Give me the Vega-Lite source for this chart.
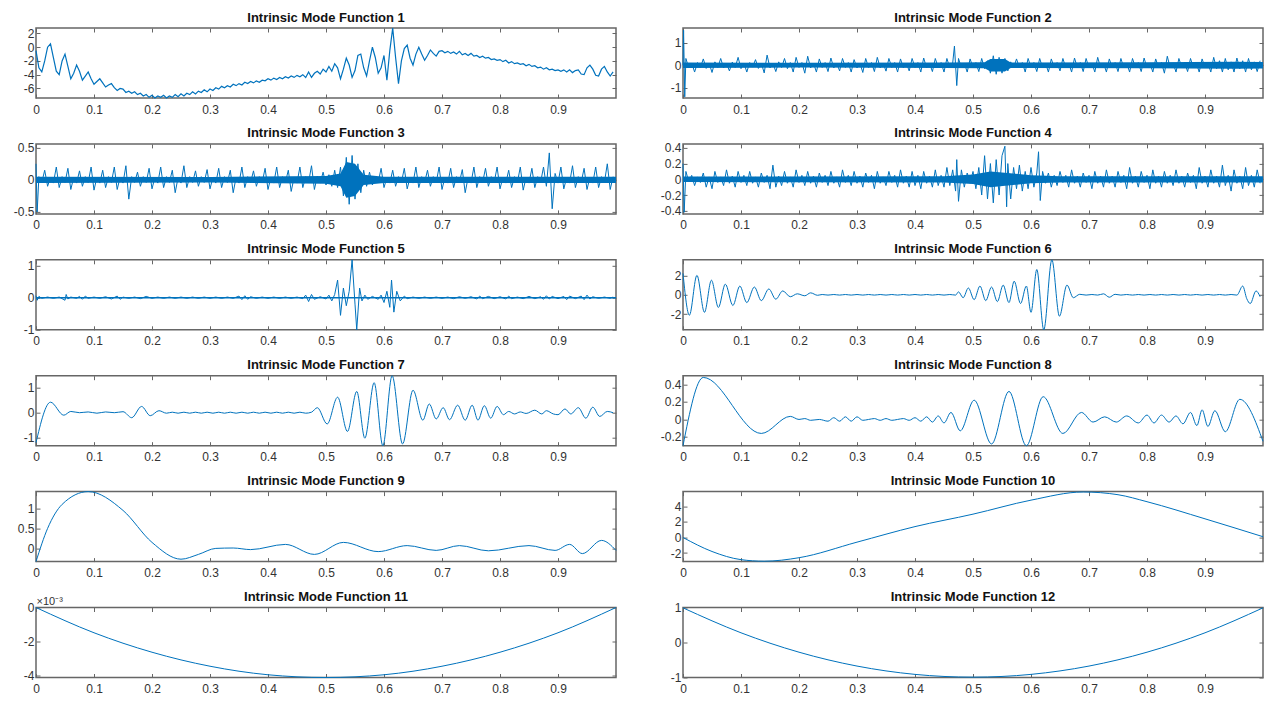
{
"$schema":"https://vega.github.io/schema/vega-lite/v6.json",
"padding":{"left":5,"top":10,"right":0,"bottom":0},
"columns":2,
"spacing":{"row":9.9,"column":33},
"config":{
 "view":{"stroke":"#666666","strokeWidth":1.5},
 "font":"Liberation Sans",
 "title":{"fontSize":13,"fontWeight":"bold","color":"#111111","offset":-10.5,"anchor":"middle","frame":"group","font":"Liberation Sans"},
 "axis":{"domain":false,"grid":false,"tickSize":-4,"tickColor":"#666666","tickWidth":1,"labelFontSize":12,"labelColor":"#333333","labelFont":"Liberation Sans","labelPadding":6,"labelFlush":false,"format":"~g"},
 "axisX":{"minExtent":16,"maxExtent":16,"labelPadding":10},
 "axisY":{"minExtent":30,"maxExtent":30},
 "line":{"color":"#0072BD","strokeWidth":1,"clip":true},
 "area":{"color":"#0072BD","clip":true},
 "locale":{"number":{"decimal":".","thousands":",","grouping":[3],"currency":["$",""],"minus":"-"}}
},
"datasets":{
"d1":[{"x":0,"y":-0.5},{"x":0.005,"y":-3},{"x":0.01,"y":-3.6},{"x":0.015,"y":-2},{"x":0.02,"y":0},{"x":0.025,"y":0.5},{"x":0.03,"y":-1.5},{"x":0.035,"y":-3.5},{"x":0.04,"y":-4},{"x":0.045,"y":-2},{"x":0.05,"y":-1},{"x":0.055,"y":-2.8},{"x":0.06,"y":-4.6},{"x":0.065,"y":-3.8},{"x":0.07,"y":-2.6},{"x":0.075,"y":-3.5},{"x":0.08,"y":-4.8},{"x":0.085,"y":-4.2},{"x":0.09,"y":-3.6},{"x":0.095,"y":-4.6},{"x":0.1,"y":-5.4},{"x":0.105,"y":-5},{"x":0.11,"y":-4.6},{"x":0.115,"y":-5.2},{"x":0.12,"y":-5.8},{"x":0.125,"y":-5.5},{"x":0.13,"y":-5.3},{"x":0.135,"y":-5.9},{"x":0.14,"y":-6.3},{"x":0.145,"y":-6},{"x":0.15,"y":-6.1},{"x":0.155,"y":-6.6},{"x":0.16,"y":-6.4},{"x":0.165,"y":-6.7},{"x":0.17,"y":-6.5},{"x":0.175,"y":-6.9},{"x":0.18,"y":-6.7},{"x":0.185,"y":-7.1},{"x":0.19,"y":-6.9},{"x":0.195,"y":-7.3},{"x":0.2,"y":-7},{"x":0.205,"y":-7.4},{"x":0.21,"y":-7.1},{"x":0.215,"y":-7.3},{"x":0.22,"y":-7},{"x":0.225,"y":-7.4},{"x":0.23,"y":-7.1},{"x":0.235,"y":-7.3},{"x":0.24,"y":-6.9},{"x":0.245,"y":-7.2},{"x":0.25,"y":-6.8},{"x":0.255,"y":-7.1},{"x":0.26,"y":-6.7},{"x":0.265,"y":-6.9},{"x":0.27,"y":-6.5},{"x":0.275,"y":-6.8},{"x":0.28,"y":-6.4},{"x":0.285,"y":-6.6},{"x":0.29,"y":-6.2},{"x":0.295,"y":-6.5},{"x":0.3,"y":-6.1},{"x":0.305,"y":-6.3},{"x":0.31,"y":-5.9},{"x":0.315,"y":-6.1},{"x":0.32,"y":-5.7},{"x":0.325,"y":-5.9},{"x":0.33,"y":-5.6},{"x":0.335,"y":-5.8},{"x":0.34,"y":-5.4},{"x":0.345,"y":-5.6},{"x":0.35,"y":-5.3},{"x":0.355,"y":-5.5},{"x":0.36,"y":-5.1},{"x":0.365,"y":-5.3},{"x":0.37,"y":-5},{"x":0.375,"y":-5.2},{"x":0.38,"y":-4.9},{"x":0.385,"y":-5.1},{"x":0.39,"y":-4.8},{"x":0.395,"y":-4.9},{"x":0.4,"y":-4.6},{"x":0.405,"y":-4.8},{"x":0.41,"y":-4.5},{"x":0.415,"y":-4.7},{"x":0.42,"y":-4.4},{"x":0.425,"y":-4.6},{"x":0.43,"y":-4.3},{"x":0.435,"y":-4.5},{"x":0.44,"y":-4.2},{"x":0.445,"y":-4.4},{"x":0.45,"y":-4.1},{"x":0.455,"y":-4.3},{"x":0.46,"y":-4},{"x":0.465,"y":-4.4},{"x":0.47,"y":-3.6},{"x":0.475,"y":-4.4},{"x":0.48,"y":-3.8},{"x":0.485,"y":-3.5},{"x":0.49,"y":-3.9},{"x":0.495,"y":-3.2},{"x":0.5,"y":-3.6},{"x":0.505,"y":-2.8},{"x":0.51,"y":-3.5},{"x":0.515,"y":-2.4},{"x":0.52,"y":-3},{"x":0.525,"y":-4.6},{"x":0.53,"y":-3.2},{"x":0.535,"y":-1.6},{"x":0.54,"y":-2.6},{"x":0.545,"y":-4.4},{"x":0.55,"y":-3.4},{"x":0.555,"y":-1.2},{"x":0.56,"y":-1},{"x":0.565,"y":-3},{"x":0.57,"y":-4.2},{"x":0.575,"y":-2},{"x":0.58,"y":0},{"x":0.585,"y":-1.5},{"x":0.59,"y":-3.8},{"x":0.595,"y":-3},{"x":0.6,"y":-1.2},{"x":0.605,"y":-4.8},{"x":0.61,"y":-0.5},{"x":0.615,"y":2.8},{"x":0.62,"y":-1.5},{"x":0.625,"y":-5.3},{"x":0.63,"y":-2},{"x":0.635,"y":-0.2},{"x":0.64,"y":0.3},{"x":0.645,"y":-1.6},{"x":0.65,"y":-2.6},{"x":0.655,"y":-1},{"x":0.66,"y":0},{"x":0.665,"y":-1},{"x":0.67,"y":-1.9},{"x":0.675,"y":-1.2},{"x":0.68,"y":-0.4},{"x":0.685,"y":-0.9},{"x":0.69,"y":-1.3},{"x":0.695,"y":-0.6},{"x":0.7,"y":-0.5},{"x":0.705,"y":-0.8},{"x":0.71,"y":-0.6},{"x":0.715,"y":-0.9},{"x":0.72,"y":-0.7},{"x":0.725,"y":-1},{"x":0.73,"y":-0.6},{"x":0.735,"y":-1.1},{"x":0.74,"y":-0.9},{"x":0.745,"y":-1.2},{"x":0.75,"y":-0.9},{"x":0.755,"y":-1.3},{"x":0.76,"y":-1.2},{"x":0.765,"y":-1.5},{"x":0.77,"y":-1.3},{"x":0.775,"y":-1.6},{"x":0.78,"y":-1.5},{"x":0.785,"y":-1.8},{"x":0.79,"y":-1.7},{"x":0.795,"y":-1.9},{"x":0.8,"y":-1.8},{"x":0.805,"y":-2.1},{"x":0.81,"y":-1.9},{"x":0.815,"y":-2.3},{"x":0.82,"y":-2.1},{"x":0.825,"y":-2.4},{"x":0.83,"y":-2.3},{"x":0.835,"y":-2.5},{"x":0.84,"y":-2.4},{"x":0.845,"y":-2.7},{"x":0.85,"y":-2.5},{"x":0.855,"y":-2.8},{"x":0.86,"y":-2.7},{"x":0.865,"y":-3},{"x":0.87,"y":-2.9},{"x":0.875,"y":-3.2},{"x":0.88,"y":-3},{"x":0.885,"y":-3.3},{"x":0.89,"y":-3.2},{"x":0.895,"y":-3.4},{"x":0.9,"y":-3.3},{"x":0.905,"y":-3.5},{"x":0.91,"y":-3.3},{"x":0.915,"y":-3.6},{"x":0.92,"y":-3.3},{"x":0.925,"y":-3.7},{"x":0.93,"y":-3.4},{"x":0.935,"y":-3.3},{"x":0.94,"y":-3.9},{"x":0.945,"y":-4},{"x":0.95,"y":-3},{"x":0.955,"y":-2.6},{"x":0.96,"y":-3.2},{"x":0.965,"y":-4.1},{"x":0.97,"y":-4.2},{"x":0.975,"y":-3.2},{"x":0.98,"y":-2.8},{"x":0.985,"y":-3.6},{"x":0.99,"y":-4.2},{"x":0.995,"y":-3.6}],
"d2":[{"x":0,"y":0},{"x":0.001,"y":1.55},{"x":0.003,"y":-1.4},{"x":0.005,"y":0.3},{"x":0.01,"y":-0.12},{"x":0.015,"y":0.1},{"x":0.02,"y":-0.3},{"x":0.025,"y":0.12},{"x":0.03,"y":-0.1},{"x":0.035,"y":0.28},{"x":0.04,"y":-0.14},{"x":0.045,"y":0.1},{"x":0.05,"y":-0.32},{"x":0.055,"y":0.15},{"x":0.06,"y":-0.1},{"x":0.065,"y":0.3},{"x":0.07,"y":-0.12},{"x":0.075,"y":0.08},{"x":0.08,"y":-0.25},{"x":0.085,"y":0.14},{"x":0.09,"y":-0.1},{"x":0.095,"y":0.35},{"x":0.1,"y":-0.15},{"x":0.105,"y":0.1},{"x":0.11,"y":-0.3},{"x":0.115,"y":0.12},{"x":0.12,"y":-0.08},{"x":0.125,"y":0.25},{"x":0.13,"y":-0.14},{"x":0.135,"y":0.1},{"x":0.14,"y":-0.34},{"x":0.145,"y":0.45},{"x":0.15,"y":-0.12},{"x":0.155,"y":0.1},{"x":0.16,"y":-0.28},{"x":0.165,"y":0.15},{"x":0.17,"y":-0.1},{"x":0.175,"y":0.3},{"x":0.18,"y":-0.15},{"x":0.185,"y":0.12},{"x":0.19,"y":-0.3},{"x":0.195,"y":0.35},{"x":0.2,"y":-0.1},{"x":0.205,"y":0.12},{"x":0.21,"y":-0.35},{"x":0.215,"y":0.4},{"x":0.22,"y":-0.12},{"x":0.225,"y":0.1},{"x":0.23,"y":-0.3},{"x":0.235,"y":0.28},{"x":0.24,"y":-0.1},{"x":0.245,"y":0.12},{"x":0.25,"y":-0.28},{"x":0.255,"y":0.32},{"x":0.26,"y":-0.12},{"x":0.265,"y":0.1},{"x":0.27,"y":-0.25},{"x":0.275,"y":0.3},{"x":0.28,"y":-0.1},{"x":0.285,"y":0.12},{"x":0.29,"y":-0.3},{"x":0.295,"y":0.25},{"x":0.3,"y":-0.12},{"x":0.305,"y":0.1},{"x":0.31,"y":-0.32},{"x":0.315,"y":0.3},{"x":0.32,"y":-0.1},{"x":0.325,"y":0.12},{"x":0.33,"y":-0.28},{"x":0.335,"y":0.35},{"x":0.34,"y":-0.12},{"x":0.345,"y":0.1},{"x":0.35,"y":-0.26},{"x":0.355,"y":0.3},{"x":0.36,"y":-0.1},{"x":0.365,"y":0.12},{"x":0.37,"y":-0.3},{"x":0.375,"y":0.28},{"x":0.38,"y":-0.12},{"x":0.385,"y":0.1},{"x":0.39,"y":-0.25},{"x":0.395,"y":0.3},{"x":0.4,"y":-0.1},{"x":0.405,"y":0.12},{"x":0.41,"y":-0.3},{"x":0.415,"y":0.32},{"x":0.42,"y":-0.12},{"x":0.425,"y":0.1},{"x":0.43,"y":-0.28},{"x":0.435,"y":0.3},{"x":0.44,"y":-0.1},{"x":0.445,"y":0.12},{"x":0.45,"y":-0.3},{"x":0.455,"y":0.3},{"x":0.46,"y":-0.12},{"x":0.465,"y":0.1},{"x":0.468,"y":0.85},{"x":0.472,"y":-0.9},{"x":0.475,"y":0.3},{"x":0.48,"y":-0.12},{"x":0.485,"y":0.1},{"x":0.49,"y":-0.3},{"x":0.495,"y":0.28},{"x":0.5,"y":-0.1},{"x":0.505,"y":0.12},{"x":0.51,"y":-0.28},{"x":0.515,"y":0.3},{"x":0.52,"y":-0.15},{"x":0.525,"y":0.2},{"x":0.53,"y":-0.35},{"x":0.535,"y":0.42},{"x":0.54,"y":-0.4},{"x":0.545,"y":0.35},{"x":0.55,"y":-0.35},{"x":0.555,"y":0.3},{"x":0.56,"y":-0.25},{"x":0.565,"y":0.15},{"x":0.57,"y":-0.12},{"x":0.575,"y":0.28},{"x":0.58,"y":-0.1},{"x":0.585,"y":0.12},{"x":0.59,"y":-0.3},{"x":0.595,"y":0.3},{"x":0.6,"y":-0.1},{"x":0.605,"y":0.12},{"x":0.61,"y":-0.28},{"x":0.615,"y":0.3},{"x":0.62,"y":-0.12},{"x":0.625,"y":0.1},{"x":0.63,"y":-0.3},{"x":0.635,"y":0.28},{"x":0.64,"y":-0.1},{"x":0.645,"y":0.12},{"x":0.65,"y":-0.25},{"x":0.655,"y":0.3},{"x":0.66,"y":-0.12},{"x":0.665,"y":0.1},{"x":0.67,"y":-0.3},{"x":0.675,"y":0.32},{"x":0.68,"y":-0.1},{"x":0.685,"y":0.12},{"x":0.69,"y":-0.28},{"x":0.695,"y":0.3},{"x":0.7,"y":-0.12},{"x":0.705,"y":0.1},{"x":0.71,"y":-0.3},{"x":0.715,"y":0.35},{"x":0.72,"y":-0.12},{"x":0.725,"y":0.1},{"x":0.73,"y":-0.3},{"x":0.735,"y":0.28},{"x":0.74,"y":-0.1},{"x":0.745,"y":0.12},{"x":0.75,"y":-0.28},{"x":0.755,"y":0.3},{"x":0.76,"y":-0.12},{"x":0.765,"y":0.1},{"x":0.77,"y":-0.3},{"x":0.775,"y":0.3},{"x":0.78,"y":-0.1},{"x":0.785,"y":0.12},{"x":0.79,"y":-0.28},{"x":0.795,"y":0.32},{"x":0.8,"y":-0.12},{"x":0.805,"y":0.1},{"x":0.81,"y":-0.3},{"x":0.815,"y":0.28},{"x":0.82,"y":-0.1},{"x":0.825,"y":0.12},{"x":0.83,"y":-0.35},{"x":0.835,"y":0.4},{"x":0.84,"y":-0.12},{"x":0.845,"y":0.1},{"x":0.85,"y":-0.3},{"x":0.855,"y":0.3},{"x":0.86,"y":-0.1},{"x":0.865,"y":0.12},{"x":0.87,"y":-0.28},{"x":0.875,"y":0.3},{"x":0.88,"y":-0.12},{"x":0.885,"y":0.1},{"x":0.89,"y":-0.3},{"x":0.895,"y":0.28},{"x":0.9,"y":-0.1},{"x":0.905,"y":0.12},{"x":0.91,"y":-0.3},{"x":0.915,"y":0.35},{"x":0.92,"y":-0.15},{"x":0.925,"y":0.2},{"x":0.93,"y":-0.3},{"x":0.935,"y":0.3},{"x":0.94,"y":-0.2},{"x":0.945,"y":0.15},{"x":0.95,"y":-0.3},{"x":0.955,"y":0.32},{"x":0.96,"y":-0.15},{"x":0.965,"y":0.2},{"x":0.97,"y":-0.3},{"x":0.975,"y":0.3},{"x":0.98,"y":-0.2},{"x":0.985,"y":0.15},{"x":0.99,"y":-0.28},{"x":0.995,"y":0.2}],
"b2":[{"x":0,"lo":-0.12,"hi":0.12},{"x":0.2,"lo":-0.1,"hi":0.11},{"x":0.45,"lo":-0.12,"hi":0.12},{"x":0.52,"lo":-0.13,"hi":0.13},{"x":0.53,"lo":-0.28,"hi":0.28},{"x":0.555,"lo":-0.28,"hi":0.28},{"x":0.565,"lo":-0.12,"hi":0.12},{"x":0.8,"lo":-0.13,"hi":0.13},{"x":0.95,"lo":-0.15,"hi":0.15},{"x":1,"lo":-0.14,"hi":0.14}],
"d3":[{"x":0,"y":0.25},{"x":0.002,"y":-0.5},{"x":0.005,"y":0.05},{"x":0.01,"y":-0.04},{"x":0.015,"y":0.15},{"x":0.02,"y":-0.1},{"x":0.025,"y":0.04},{"x":0.03,"y":-0.05},{"x":0.035,"y":0.2},{"x":0.04,"y":-0.12},{"x":0.045,"y":0.05},{"x":0.05,"y":-0.04},{"x":0.055,"y":0.18},{"x":0.06,"y":-0.15},{"x":0.065,"y":0.04},{"x":0.07,"y":-0.05},{"x":0.075,"y":0.14},{"x":0.08,"y":-0.1},{"x":0.085,"y":0.05},{"x":0.09,"y":-0.04},{"x":0.095,"y":0.2},{"x":0.1,"y":-0.16},{"x":0.105,"y":0.04},{"x":0.11,"y":-0.05},{"x":0.115,"y":0.15},{"x":0.12,"y":-0.12},{"x":0.125,"y":0.05},{"x":0.13,"y":-0.04},{"x":0.135,"y":0.2},{"x":0.14,"y":-0.15},{"x":0.145,"y":0.04},{"x":0.15,"y":-0.05},{"x":0.155,"y":0.22},{"x":0.16,"y":-0.3},{"x":0.165,"y":0.05},{"x":0.17,"y":-0.04},{"x":0.175,"y":0.12},{"x":0.18,"y":-0.1},{"x":0.185,"y":0.05},{"x":0.19,"y":-0.04},{"x":0.195,"y":0.18},{"x":0.2,"y":-0.14},{"x":0.205,"y":0.04},{"x":0.21,"y":-0.05},{"x":0.215,"y":0.2},{"x":0.22,"y":-0.12},{"x":0.225,"y":0.05},{"x":0.23,"y":-0.04},{"x":0.235,"y":0.15},{"x":0.24,"y":-0.2},{"x":0.245,"y":0.04},{"x":0.25,"y":-0.05},{"x":0.255,"y":0.22},{"x":0.26,"y":-0.12},{"x":0.265,"y":0.05},{"x":0.27,"y":-0.04},{"x":0.275,"y":0.14},{"x":0.28,"y":-0.1},{"x":0.285,"y":0.05},{"x":0.29,"y":-0.04},{"x":0.295,"y":0.16},{"x":0.3,"y":-0.14},{"x":0.305,"y":0.04},{"x":0.31,"y":-0.05},{"x":0.315,"y":0.18},{"x":0.32,"y":-0.12},{"x":0.325,"y":0.05},{"x":0.33,"y":-0.04},{"x":0.335,"y":0.15},{"x":0.34,"y":-0.2},{"x":0.345,"y":0.04},{"x":0.35,"y":-0.05},{"x":0.355,"y":0.2},{"x":0.36,"y":-0.12},{"x":0.365,"y":0.05},{"x":0.37,"y":-0.04},{"x":0.375,"y":0.14},{"x":0.38,"y":-0.1},{"x":0.385,"y":0.05},{"x":0.39,"y":-0.04},{"x":0.395,"y":0.18},{"x":0.4,"y":-0.15},{"x":0.405,"y":0.04},{"x":0.41,"y":-0.05},{"x":0.415,"y":0.2},{"x":0.42,"y":-0.12},{"x":0.425,"y":0.05},{"x":0.43,"y":-0.04},{"x":0.435,"y":0.15},{"x":0.44,"y":-0.18},{"x":0.445,"y":0.04},{"x":0.45,"y":-0.05},{"x":0.455,"y":0.2},{"x":0.46,"y":-0.12},{"x":0.465,"y":0.05},{"x":0.47,"y":-0.04},{"x":0.475,"y":0.22},{"x":0.48,"y":-0.15},{"x":0.485,"y":0.06},{"x":0.49,"y":-0.05},{"x":0.495,"y":0.12},{"x":0.5,"y":-0.08},{"x":0.505,"y":0.08},{"x":0.51,"y":-0.1},{"x":0.515,"y":0.15},{"x":0.52,"y":-0.12},{"x":0.525,"y":0.2},{"x":0.53,"y":-0.25},{"x":0.535,"y":0.35},{"x":0.54,"y":-0.38},{"x":0.545,"y":0.38},{"x":0.55,"y":-0.3},{"x":0.555,"y":0.25},{"x":0.56,"y":-0.2},{"x":0.565,"y":0.15},{"x":0.57,"y":-0.1},{"x":0.575,"y":0.12},{"x":0.58,"y":-0.08},{"x":0.585,"y":0.05},{"x":0.59,"y":-0.04},{"x":0.595,"y":0.18},{"x":0.6,"y":-0.12},{"x":0.605,"y":0.04},{"x":0.61,"y":-0.05},{"x":0.615,"y":0.15},{"x":0.62,"y":-0.1},{"x":0.625,"y":0.05},{"x":0.63,"y":-0.04},{"x":0.635,"y":0.18},{"x":0.64,"y":-0.14},{"x":0.645,"y":0.04},{"x":0.65,"y":-0.05},{"x":0.655,"y":0.2},{"x":0.66,"y":-0.12},{"x":0.665,"y":0.05},{"x":0.67,"y":-0.04},{"x":0.675,"y":0.15},{"x":0.68,"y":-0.1},{"x":0.685,"y":0.05},{"x":0.69,"y":-0.04},{"x":0.695,"y":0.2},{"x":0.7,"y":-0.15},{"x":0.705,"y":0.04},{"x":0.71,"y":-0.05},{"x":0.715,"y":0.18},{"x":0.72,"y":-0.12},{"x":0.725,"y":0.05},{"x":0.73,"y":-0.04},{"x":0.735,"y":0.16},{"x":0.74,"y":-0.2},{"x":0.745,"y":0.04},{"x":0.75,"y":-0.05},{"x":0.755,"y":0.2},{"x":0.76,"y":-0.12},{"x":0.765,"y":0.05},{"x":0.77,"y":-0.04},{"x":0.775,"y":0.18},{"x":0.78,"y":-0.1},{"x":0.785,"y":0.05},{"x":0.79,"y":-0.04},{"x":0.795,"y":0.2},{"x":0.8,"y":-0.14},{"x":0.805,"y":0.04},{"x":0.81,"y":-0.05},{"x":0.815,"y":0.15},{"x":0.82,"y":-0.12},{"x":0.825,"y":0.05},{"x":0.83,"y":-0.04},{"x":0.835,"y":0.2},{"x":0.84,"y":-0.16},{"x":0.845,"y":0.04},{"x":0.85,"y":-0.05},{"x":0.855,"y":0.18},{"x":0.86,"y":-0.12},{"x":0.865,"y":0.05},{"x":0.87,"y":-0.04},{"x":0.875,"y":0.2},{"x":0.88,"y":-0.1},{"x":0.885,"y":0.42},{"x":0.89,"y":-0.45},{"x":0.895,"y":0.1},{"x":0.9,"y":-0.05},{"x":0.905,"y":0.2},{"x":0.91,"y":-0.14},{"x":0.915,"y":0.04},{"x":0.92,"y":-0.05},{"x":0.925,"y":0.22},{"x":0.93,"y":-0.12},{"x":0.935,"y":0.05},{"x":0.94,"y":-0.04},{"x":0.945,"y":0.18},{"x":0.95,"y":-0.15},{"x":0.955,"y":0.04},{"x":0.96,"y":-0.05},{"x":0.965,"y":0.2},{"x":0.97,"y":-0.12},{"x":0.975,"y":0.05},{"x":0.98,"y":-0.04},{"x":0.985,"y":0.25},{"x":0.99,"y":-0.15},{"x":0.995,"y":0.05}],
"b3":[{"x":0,"lo":-0.05,"hi":0.05},{"x":0.3,"lo":-0.04,"hi":0.045},{"x":0.5,"lo":-0.06,"hi":0.06},{"x":0.525,"lo":-0.1,"hi":0.1},{"x":0.535,"lo":-0.28,"hi":0.28},{"x":0.55,"lo":-0.25,"hi":0.25},{"x":0.565,"lo":-0.08,"hi":0.08},{"x":0.6,"lo":-0.05,"hi":0.05},{"x":1,"lo":-0.05,"hi":0.05}],
"d4":[{"x":0,"y":0.2},{"x":0.002,"y":-0.42},{"x":0.005,"y":0.1},{"x":0.01,"y":-0.03},{"x":0.015,"y":0.05},{"x":0.02,"y":-0.08},{"x":0.025,"y":0.03},{"x":0.03,"y":-0.04},{"x":0.035,"y":0.08},{"x":0.04,"y":-0.1},{"x":0.045,"y":0.03},{"x":0.05,"y":-0.12},{"x":0.055,"y":0.1},{"x":0.06,"y":-0.04},{"x":0.065,"y":0.03},{"x":0.07,"y":-0.08},{"x":0.075,"y":0.12},{"x":0.08,"y":-0.05},{"x":0.085,"y":0.04},{"x":0.09,"y":-0.1},{"x":0.095,"y":0.1},{"x":0.1,"y":-0.04},{"x":0.105,"y":0.05},{"x":0.11,"y":-0.08},{"x":0.115,"y":0.1},{"x":0.12,"y":-0.05},{"x":0.125,"y":0.03},{"x":0.13,"y":-0.1},{"x":0.135,"y":0.08},{"x":0.14,"y":-0.04},{"x":0.145,"y":0.05},{"x":0.15,"y":-0.12},{"x":0.155,"y":0.18},{"x":0.16,"y":-0.1},{"x":0.165,"y":0.04},{"x":0.17,"y":-0.08},{"x":0.175,"y":0.1},{"x":0.18,"y":-0.05},{"x":0.185,"y":0.03},{"x":0.19,"y":-0.1},{"x":0.195,"y":0.12},{"x":0.2,"y":-0.04},{"x":0.205,"y":0.05},{"x":0.21,"y":-0.08},{"x":0.215,"y":0.1},{"x":0.22,"y":-0.05},{"x":0.225,"y":0.04},{"x":0.23,"y":-0.1},{"x":0.235,"y":0.08},{"x":0.24,"y":-0.04},{"x":0.245,"y":0.05},{"x":0.25,"y":-0.08},{"x":0.255,"y":0.1},{"x":0.26,"y":-0.05},{"x":0.265,"y":0.03},{"x":0.27,"y":-0.1},{"x":0.275,"y":0.12},{"x":0.28,"y":-0.04},{"x":0.285,"y":0.05},{"x":0.29,"y":-0.08},{"x":0.295,"y":0.1},{"x":0.3,"y":-0.05},{"x":0.305,"y":0.04},{"x":0.31,"y":-0.1},{"x":0.315,"y":0.08},{"x":0.32,"y":-0.04},{"x":0.325,"y":0.05},{"x":0.33,"y":-0.12},{"x":0.335,"y":0.1},{"x":0.34,"y":-0.05},{"x":0.345,"y":0.03},{"x":0.35,"y":-0.08},{"x":0.355,"y":0.1},{"x":0.36,"y":-0.04},{"x":0.365,"y":0.05},{"x":0.37,"y":-0.1},{"x":0.375,"y":0.12},{"x":0.38,"y":-0.05},{"x":0.385,"y":0.04},{"x":0.39,"y":-0.1},{"x":0.395,"y":0.1},{"x":0.4,"y":-0.08},{"x":0.405,"y":0.05},{"x":0.41,"y":-0.12},{"x":0.415,"y":0.1},{"x":0.42,"y":-0.05},{"x":0.425,"y":0.04},{"x":0.43,"y":-0.1},{"x":0.435,"y":0.12},{"x":0.44,"y":-0.08},{"x":0.445,"y":0.05},{"x":0.45,"y":-0.1},{"x":0.455,"y":0.15},{"x":0.46,"y":-0.08},{"x":0.465,"y":0.12},{"x":0.47,"y":-0.15},{"x":0.472,"y":0.25},{"x":0.475,"y":-0.28},{"x":0.48,"y":0.12},{"x":0.485,"y":-0.1},{"x":0.49,"y":0.08},{"x":0.495,"y":-0.05},{"x":0.5,"y":0.1},{"x":0.505,"y":-0.12},{"x":0.51,"y":0.15},{"x":0.515,"y":-0.2},{"x":0.52,"y":0.3},{"x":0.525,"y":-0.25},{"x":0.53,"y":0.2},{"x":0.535,"y":-0.3},{"x":0.54,"y":0.25},{"x":0.545,"y":-0.2},{"x":0.55,"y":0.3},{"x":0.555,"y":0.42},{"x":0.558,"y":-0.35},{"x":0.56,"y":0.2},{"x":0.565,"y":-0.25},{"x":0.57,"y":0.15},{"x":0.575,"y":-0.12},{"x":0.58,"y":0.18},{"x":0.585,"y":-0.15},{"x":0.59,"y":0.1},{"x":0.595,"y":-0.12},{"x":0.6,"y":0.15},{"x":0.605,"y":-0.1},{"x":0.61,"y":0.08},{"x":0.613,"y":0.35},{"x":0.616,"y":-0.27},{"x":0.62,"y":0.1},{"x":0.625,"y":-0.05},{"x":0.63,"y":0.08},{"x":0.635,"y":-0.1},{"x":0.64,"y":0.05},{"x":0.645,"y":-0.08},{"x":0.65,"y":0.1},{"x":0.655,"y":-0.04},{"x":0.66,"y":0.05},{"x":0.665,"y":-0.1},{"x":0.67,"y":0.12},{"x":0.675,"y":-0.05},{"x":0.68,"y":0.04},{"x":0.685,"y":-0.1},{"x":0.69,"y":0.08},{"x":0.695,"y":-0.04},{"x":0.7,"y":0.05},{"x":0.705,"y":-0.12},{"x":0.71,"y":0.1},{"x":0.715,"y":-0.05},{"x":0.72,"y":0.04},{"x":0.725,"y":-0.1},{"x":0.73,"y":0.12},{"x":0.735,"y":-0.05},{"x":0.74,"y":0.04},{"x":0.745,"y":-0.1},{"x":0.75,"y":0.1},{"x":0.755,"y":-0.04},{"x":0.76,"y":0.05},{"x":0.765,"y":-0.12},{"x":0.77,"y":0.15},{"x":0.775,"y":-0.05},{"x":0.78,"y":0.04},{"x":0.785,"y":-0.1},{"x":0.79,"y":0.1},{"x":0.795,"y":-0.04},{"x":0.8,"y":0.05},{"x":0.805,"y":-0.12},{"x":0.81,"y":0.12},{"x":0.815,"y":-0.05},{"x":0.82,"y":0.04},{"x":0.825,"y":-0.1},{"x":0.83,"y":0.1},{"x":0.835,"y":-0.05},{"x":0.84,"y":0.05},{"x":0.845,"y":-0.08},{"x":0.85,"y":0.12},{"x":0.855,"y":-0.05},{"x":0.86,"y":0.04},{"x":0.865,"y":-0.1},{"x":0.87,"y":0.08},{"x":0.875,"y":-0.04},{"x":0.88,"y":0.05},{"x":0.885,"y":-0.12},{"x":0.89,"y":0.15},{"x":0.895,"y":-0.05},{"x":0.9,"y":0.04},{"x":0.905,"y":-0.1},{"x":0.91,"y":0.12},{"x":0.915,"y":-0.05},{"x":0.92,"y":0.04},{"x":0.925,"y":-0.1},{"x":0.93,"y":0.18},{"x":0.935,"y":-0.08},{"x":0.94,"y":0.05},{"x":0.945,"y":-0.15},{"x":0.95,"y":0.12},{"x":0.955,"y":-0.05},{"x":0.96,"y":0.04},{"x":0.965,"y":-0.12},{"x":0.97,"y":0.15},{"x":0.975,"y":-0.08},{"x":0.98,"y":0.05},{"x":0.985,"y":-0.1},{"x":0.99,"y":0.12},{"x":0.995,"y":-0.05}],
"b4":[{"x":0,"lo":-0.035,"hi":0.035},{"x":0.45,"lo":-0.04,"hi":0.04},{"x":0.5,"lo":-0.06,"hi":0.06},{"x":0.53,"lo":-0.1,"hi":0.1},{"x":0.56,"lo":-0.08,"hi":0.08},{"x":0.6,"lo":-0.05,"hi":0.05},{"x":0.65,"lo":-0.04,"hi":0.04},{"x":1,"lo":-0.04,"hi":0.04}],
"d5":[{"x":0,"y":0.06},{"x":0.002,"y":-0.08},{"x":0.005,"y":0.04},{"x":0.01,"y":-0.02},{"x":0.02,"y":0.02},{"x":0.03,"y":-0.02},{"x":0.04,"y":0.02},{"x":0.05,"y":-0.08},{"x":0.052,"y":0.1},{"x":0.055,"y":-0.04},{"x":0.06,"y":0.02},{"x":0.07,"y":-0.02},{"x":0.075,"y":0.04},{"x":0.08,"y":-0.05},{"x":0.085,"y":0.05},{"x":0.09,"y":-0.02},{"x":0.1,"y":0.02},{"x":0.11,"y":-0.02},{"x":0.12,"y":0.03},{"x":0.13,"y":-0.04},{"x":0.14,"y":0.05},{"x":0.145,"y":-0.05},{"x":0.15,"y":0.02},{"x":0.16,"y":-0.02},{"x":0.17,"y":0.02},{"x":0.18,"y":-0.03},{"x":0.19,"y":0.04},{"x":0.2,"y":-0.02},{"x":0.21,"y":0.02},{"x":0.22,"y":-0.02},{"x":0.23,"y":0.02},{"x":0.24,"y":-0.02},{"x":0.25,"y":0.02},{"x":0.26,"y":-0.02},{"x":0.27,"y":0.02},{"x":0.28,"y":-0.02},{"x":0.29,"y":0.02},{"x":0.3,"y":-0.02},{"x":0.31,"y":0.02},{"x":0.32,"y":-0.02},{"x":0.33,"y":0.02},{"x":0.34,"y":-0.02},{"x":0.35,"y":0.05},{"x":0.355,"y":-0.06},{"x":0.36,"y":0.06},{"x":0.365,"y":-0.05},{"x":0.37,"y":0.03},{"x":0.38,"y":-0.02},{"x":0.39,"y":0.02},{"x":0.4,"y":-0.02},{"x":0.41,"y":0.02},{"x":0.42,"y":-0.02},{"x":0.43,"y":0.02},{"x":0.44,"y":-0.02},{"x":0.45,"y":0.02},{"x":0.46,"y":-0.03},{"x":0.465,"y":0.08},{"x":0.47,"y":-0.12},{"x":0.475,"y":0.1},{"x":0.48,"y":-0.05},{"x":0.49,"y":0.03},{"x":0.5,"y":-0.04},{"x":0.505,"y":0.08},{"x":0.51,"y":-0.1},{"x":0.515,"y":0.1},{"x":0.52,"y":0.55},{"x":0.525,"y":-0.55},{"x":0.53,"y":0.3},{"x":0.535,"y":-0.25},{"x":0.54,"y":0.2},{"x":0.545,"y":1.18},{"x":0.55,"y":-0.2},{"x":0.553,"y":-1},{"x":0.558,"y":0.3},{"x":0.562,"y":-0.1},{"x":0.567,"y":0.08},{"x":0.572,"y":-0.05},{"x":0.58,"y":0.04},{"x":0.59,"y":-0.05},{"x":0.595,"y":0.08},{"x":0.6,"y":-0.15},{"x":0.605,"y":0.2},{"x":0.61,"y":-0.3},{"x":0.613,"y":0.55},{"x":0.617,"y":-0.45},{"x":0.622,"y":0.2},{"x":0.628,"y":-0.1},{"x":0.635,"y":0.05},{"x":0.64,"y":-0.03},{"x":0.65,"y":0.02},{"x":0.66,"y":-0.02},{"x":0.67,"y":0.02},{"x":0.68,"y":-0.02},{"x":0.69,"y":0.02},{"x":0.7,"y":-0.02},{"x":0.71,"y":0.02},{"x":0.72,"y":-0.03},{"x":0.73,"y":0.03},{"x":0.74,"y":-0.02},{"x":0.75,"y":0.03},{"x":0.76,"y":-0.04},{"x":0.765,"y":0.05},{"x":0.77,"y":-0.03},{"x":0.78,"y":0.04},{"x":0.79,"y":-0.03},{"x":0.8,"y":0.03},{"x":0.81,"y":-0.04},{"x":0.815,"y":0.05},{"x":0.82,"y":-0.03},{"x":0.83,"y":0.02},{"x":0.84,"y":-0.03},{"x":0.85,"y":0.04},{"x":0.86,"y":-0.03},{"x":0.87,"y":0.03},{"x":0.875,"y":-0.05},{"x":0.88,"y":0.06},{"x":0.885,"y":-0.04},{"x":0.89,"y":0.04},{"x":0.9,"y":-0.03},{"x":0.91,"y":0.04},{"x":0.915,"y":-0.06},{"x":0.92,"y":0.05},{"x":0.93,"y":-0.03},{"x":0.94,"y":0.05},{"x":0.945,"y":-0.06},{"x":0.95,"y":0.08},{"x":0.955,"y":-0.04},{"x":0.96,"y":0.03},{"x":0.97,"y":-0.02},{"x":0.98,"y":0.02},{"x":0.99,"y":-0.02},{"x":0.995,"y":0.02}],
"b5":[{"x":0,"lo":-0.025,"hi":0.025},{"x":1,"lo":-0.025,"hi":0.025}],
"d6":[{"x":0,"y":2.2},{"x":0.011,"y":-2.1},{"x":0.024,"y":2},{"x":0.037,"y":-1.8},{"x":0.049,"y":1.5},{"x":0.061,"y":-1.3},{"x":0.073,"y":1.1},{"x":0.086,"y":-1.1},{"x":0.098,"y":0.9},{"x":0.11,"y":-0.8},{"x":0.123,"y":0.8},{"x":0.135,"y":-0.6},{"x":0.148,"y":0.6},{"x":0.16,"y":-0.45},{"x":0.172,"y":0.4},{"x":0.185,"y":-0.2},{"x":0.197,"y":0.1},{"x":0.21,"y":-0.1},{"x":0.22,"y":0.2},{"x":0.232,"y":-0.05},{"x":0.24,"y":0.03},{"x":0.25,"y":-0.03},{"x":0.26,"y":0.03},{"x":0.27,"y":-0.03},{"x":0.28,"y":0.03},{"x":0.29,"y":-0.03},{"x":0.3,"y":0.03},{"x":0.31,"y":-0.03},{"x":0.32,"y":0.03},{"x":0.33,"y":-0.03},{"x":0.34,"y":0.03},{"x":0.35,"y":-0.03},{"x":0.36,"y":0.03},{"x":0.37,"y":-0.03},{"x":0.38,"y":0.03},{"x":0.39,"y":-0.03},{"x":0.4,"y":0.03},{"x":0.41,"y":-0.03},{"x":0.42,"y":0.03},{"x":0.43,"y":-0.03},{"x":0.44,"y":0.03},{"x":0.45,"y":-0.03},{"x":0.46,"y":0.03},{"x":0.47,"y":-0.03},{"x":0.475,"y":0.3},{"x":0.483,"y":-0.3},{"x":0.492,"y":0.7},{"x":0.502,"y":-0.5},{"x":0.512,"y":0.9},{"x":0.522,"y":-0.6},{"x":0.532,"y":0.8},{"x":0.542,"y":-0.7},{"x":0.552,"y":1},{"x":0.562,"y":-0.8},{"x":0.571,"y":1.4},{"x":0.582,"y":-0.9},{"x":0.592,"y":0.9},{"x":0.6,"y":-1.8},{"x":0.61,"y":2.6},{"x":0.622,"y":-3.6},{"x":0.636,"y":3.6},{"x":0.649,"y":-2.2},{"x":0.662,"y":1},{"x":0.673,"y":-0.3},{"x":0.684,"y":0.05},{"x":0.695,"y":-0.03},{"x":0.705,"y":0.03},{"x":0.715,"y":-0.03},{"x":0.725,"y":0.1},{"x":0.735,"y":-0.25},{"x":0.745,"y":0.05},{"x":0.755,"y":-0.03},{"x":0.765,"y":0.03},{"x":0.775,"y":-0.03},{"x":0.785,"y":0.03},{"x":0.795,"y":-0.03},{"x":0.805,"y":0.03},{"x":0.815,"y":-0.03},{"x":0.825,"y":0.03},{"x":0.835,"y":-0.03},{"x":0.845,"y":0.03},{"x":0.855,"y":-0.03},{"x":0.865,"y":0.03},{"x":0.875,"y":-0.03},{"x":0.885,"y":0.03},{"x":0.895,"y":-0.03},{"x":0.905,"y":0.03},{"x":0.915,"y":-0.03},{"x":0.925,"y":0.03},{"x":0.935,"y":-0.03},{"x":0.945,"y":0.03},{"x":0.955,"y":-0.03},{"x":0.965,"y":0.9},{"x":0.972,"y":-0.4},{"x":0.978,"y":-0.9},{"x":0.988,"y":0.4},{"x":0.995,"y":-0.2}],
"d7":[{"x":0,"y":-1.2},{"x":0.025,"y":0.42},{"x":0.048,"y":-0.1},{"x":0.06,"y":0.05},{"x":0.075,"y":0},{"x":0.09,"y":0.03},{"x":0.105,"y":-0.02},{"x":0.12,"y":0.03},{"x":0.135,"y":0},{"x":0.15,"y":0.04},{"x":0.165,"y":-0.2},{"x":0.182,"y":0.25},{"x":0.197,"y":-0.12},{"x":0.212,"y":0.08},{"x":0.225,"y":-0.02},{"x":0.235,"y":0.02},{"x":0.245,"y":-0.02},{"x":0.255,"y":0.02},{"x":0.265,"y":-0.02},{"x":0.275,"y":0.02},{"x":0.285,"y":-0.02},{"x":0.295,"y":0.02},{"x":0.305,"y":-0.02},{"x":0.315,"y":0.02},{"x":0.325,"y":-0.02},{"x":0.335,"y":0.02},{"x":0.345,"y":-0.02},{"x":0.355,"y":0.02},{"x":0.365,"y":-0.02},{"x":0.375,"y":0.02},{"x":0.385,"y":-0.02},{"x":0.395,"y":0.02},{"x":0.405,"y":-0.02},{"x":0.415,"y":0.02},{"x":0.425,"y":-0.02},{"x":0.435,"y":0.02},{"x":0.445,"y":-0.02},{"x":0.455,"y":0.02},{"x":0.465,"y":-0.02},{"x":0.475,"y":0.02},{"x":0.485,"y":0.2},{"x":0.502,"y":-0.45},{"x":0.52,"y":0.62},{"x":0.537,"y":-0.75},{"x":0.553,"y":0.85},{"x":0.567,"y":-1.02},{"x":0.583,"y":1.2},{"x":0.598,"y":-1.32},{"x":0.614,"y":1.48},{"x":0.632,"y":-1.25},{"x":0.65,"y":0.9},{"x":0.667,"y":-0.3},{"x":0.678,"y":0.35},{"x":0.69,"y":-0.25},{"x":0.702,"y":0.2},{"x":0.713,"y":-0.28},{"x":0.727,"y":0.3},{"x":0.74,"y":-0.3},{"x":0.752,"y":0.3},{"x":0.762,"y":-0.3},{"x":0.773,"y":0.28},{"x":0.784,"y":-0.22},{"x":0.795,"y":0.25},{"x":0.806,"y":-0.08},{"x":0.815,"y":0.05},{"x":0.825,"y":-0.05},{"x":0.835,"y":0.03},{"x":0.845,"y":-0.03},{"x":0.86,"y":0.1},{"x":0.872,"y":-0.05},{"x":0.88,"y":0.08},{"x":0.892,"y":-0.05},{"x":0.9,"y":-0.08},{"x":0.912,"y":0.15},{"x":0.922,"y":-0.05},{"x":0.935,"y":0.2},{"x":0.948,"y":-0.22},{"x":0.96,"y":0.22},{"x":0.972,"y":-0.15},{"x":0.985,"y":0.05},{"x":0.995,"y":0}],
"d8":[{"x":0,"y":-0.3},{"x":0.035,"y":0.48},{"x":0.135,"y":-0.16},{"x":0.185,"y":0.035},{"x":0.2,"y":0},{"x":0.21,"y":0.01},{"x":0.22,"y":-0.01},{"x":0.235,"y":0},{"x":0.25,"y":-0.02},{"x":0.26,"y":0.02},{"x":0.27,"y":-0.02},{"x":0.28,"y":0.03},{"x":0.29,"y":-0.02},{"x":0.3,"y":0.03},{"x":0.31,"y":-0.01},{"x":0.32,"y":0},{"x":0.33,"y":0.01},{"x":0.34,"y":-0.01},{"x":0.35,"y":0.01},{"x":0.36,"y":-0.01},{"x":0.37,"y":0},{"x":0.38,"y":0.01},{"x":0.39,"y":-0.01},{"x":0.4,"y":0.02},{"x":0.41,"y":-0.02},{"x":0.42,"y":0.03},{"x":0.43,"y":-0.03},{"x":0.44,"y":0.04},{"x":0.45,"y":-0.04},{"x":0.462,"y":0.08},{"x":0.478,"y":-0.13},{"x":0.502,"y":0.22},{"x":0.532,"y":-0.28},{"x":0.562,"y":0.32},{"x":0.592,"y":-0.3},{"x":0.621,"y":0.26},{"x":0.655,"y":-0.16},{"x":0.687,"y":0.08},{"x":0.707,"y":-0.03},{"x":0.727,"y":0.03},{"x":0.747,"y":-0.03},{"x":0.765,"y":0.04},{"x":0.785,"y":-0.04},{"x":0.8,"y":0.05},{"x":0.812,"y":-0.04},{"x":0.825,"y":0.05},{"x":0.838,"y":-0.03},{"x":0.85,"y":0.04},{"x":0.862,"y":-0.05},{"x":0.875,"y":0.08},{"x":0.886,"y":-0.07},{"x":0.895,"y":0.11},{"x":0.905,"y":-0.08},{"x":0.917,"y":0.1},{"x":0.935,"y":-0.14},{"x":0.96,"y":0.23},{"x":1,"y":-0.25}],
"d9":[{"x":0,"y":-0.33},{"x":0.02,"y":0.5},{"x":0.045,"y":1.1},{"x":0.09,"y":1.42},{"x":0.15,"y":0.95},{"x":0.2,"y":0.15},{"x":0.25,"y":-0.27},{"x":0.28,"y":-0.15},{"x":0.31,"y":0},{"x":0.34,"y":0.01},{"x":0.37,"y":-0.03},{"x":0.43,"y":0.1},{"x":0.48,"y":-0.15},{"x":0.53,"y":0.15},{"x":0.59,"y":-0.08},{"x":0.64,"y":0.07},{"x":0.69,"y":-0.05},{"x":0.73,"y":0.07},{"x":0.78,"y":-0.06},{"x":0.85,"y":0.07},{"x":0.895,"y":-0.05},{"x":0.92,"y":0.1},{"x":0.942,"y":-0.13},{"x":0.975,"y":0.2},{"x":1,"y":-0.05}],
"d10":[{"x":0,"y":0},{"x":0.05,"y":-1.8},{"x":0.1,"y":-2.85},{"x":0.14,"y":-3.05},{"x":0.2,"y":-2.6},{"x":0.3,"y":-0.6},{"x":0.4,"y":1.4},{"x":0.5,"y":3},{"x":0.6,"y":4.8},{"x":0.69,"y":5.85},{"x":0.75,"y":5.5},{"x":0.8,"y":4.6},{"x":0.9,"y":2.4},{"x":1,"y":0.1}],
"d11":[{"x":0,"y":0},{"x":0.1,"y":-0.00148},{"x":0.2,"y":-0.00262},{"x":0.3,"y":-0.00344},{"x":0.4,"y":-0.00394},{"x":0.5,"y":-0.0041},{"x":0.6,"y":-0.00394},{"x":0.7,"y":-0.00344},{"x":0.8,"y":-0.00262},{"x":0.9,"y":-0.00148},{"x":1,"y":0}],
"d12":[{"x":0,"y":1},{"x":0.1,"y":0.28},{"x":0.2,"y":-0.28},{"x":0.3,"y":-0.68},{"x":0.4,"y":-0.92},{"x":0.5,"y":-1},{"x":0.6,"y":-0.92},{"x":0.7,"y":-0.68},{"x":0.8,"y":-0.28},{"x":0.9,"y":0.28},{"x":1,"y":1}]
},
"concat":[
{"title":"Intrinsic Mode Function 1","width":580,"height":70,"data":{"name":"d1"},"layer":[
 {"mark":{"type":"line","strokeWidth":1.2},"encoding":{"x":{"field":"x","type":"quantitative","title":null,"scale":{"domain":[0,1],"nice":false},"axis":{"values":[0,0.1,0.2,0.3,0.4,0.5,0.6,0.7,0.8,0.9]}},"y":{"field":"y","type":"quantitative","title":null,"scale":{"domain":[-7.4,2.8],"nice":false,"zero":false},"axis":{"values":[-6,-4,-2,0,2]}}}},
 {"mark":{"type":"line","opacity":0},"encoding":{"x":{"field":"x","type":"quantitative","title":null,"scale":{"domain":[0,1],"nice":false},"axis":{"orient":"top","labels":false,"minExtent":0,"maxExtent":0,"values":[0,0.1,0.2,0.3,0.4,0.5,0.6,0.7,0.8,0.9]}},"y":{"field":"y","type":"quantitative","title":null,"scale":{"domain":[-7.4,2.8],"nice":false,"zero":false},"axis":{"orient":"right","labels":false,"minExtent":0,"maxExtent":0,"values":[-6,-4,-2,0,2]}}}},
 {"mark":{"type":"line","opacity":0},"encoding":{"x":{"field":"x","type":"quantitative","title":null,"scale":{"domain":[0,1],"nice":false},"axis":{"orient":"top","labels":false,"tickSize":14,"tickOpacity":0,"minExtent":0,"maxExtent":0,"values":[0]}},"y":{"field":"y","type":"quantitative","scale":{"domain":[-7.4,2.8],"nice":false,"zero":false},"axis":null}}}
],"resolve":{"axis":{"x":"independent","y":"independent"}}},
{"title":"Intrinsic Mode Function 2","width":580,"height":70,"data":{"name":"d2"},"layer":[
 {"data":{"name":"b2"},"mark":{"type":"area"},"encoding":{"x":{"field":"x","type":"quantitative","scale":{"domain":[0,1],"nice":false},"axis":null},"y":{"field":"lo","type":"quantitative","scale":{"domain":[-1.45,1.65],"nice":false,"zero":false},"axis":null},"y2":{"field":"hi"}}},
 {"mark":{"type":"line"},"encoding":{"x":{"field":"x","type":"quantitative","title":null,"scale":{"domain":[0,1],"nice":false},"axis":{"values":[0,0.1,0.2,0.3,0.4,0.5,0.6,0.7,0.8,0.9]}},"y":{"field":"y","type":"quantitative","title":null,"scale":{"domain":[-1.45,1.65],"nice":false,"zero":false},"axis":{"values":[-1,0,1]}}}},
 {"mark":{"type":"line","opacity":0},"encoding":{"x":{"field":"x","type":"quantitative","title":null,"scale":{"domain":[0,1],"nice":false},"axis":{"orient":"top","labels":false,"minExtent":0,"maxExtent":0,"values":[0,0.1,0.2,0.3,0.4,0.5,0.6,0.7,0.8,0.9]}},"y":{"field":"y","type":"quantitative","title":null,"scale":{"domain":[-1.45,1.65],"nice":false,"zero":false},"axis":{"orient":"right","labels":false,"minExtent":0,"maxExtent":0,"values":[-1,0,1]}}}},
 {"mark":{"type":"line","opacity":0},"encoding":{"x":{"field":"x","type":"quantitative","title":null,"scale":{"domain":[0,1],"nice":false},"axis":{"orient":"top","labels":false,"tickSize":14,"tickOpacity":0,"minExtent":0,"maxExtent":0,"values":[0]}},"y":{"field":"y","type":"quantitative","scale":{"domain":[-1.45,1.65],"nice":false,"zero":false},"axis":null}}}
],"resolve":{"axis":{"x":"independent","y":"independent"}}},
{"title":"Intrinsic Mode Function 3","width":580,"height":70,"data":{"name":"d3"},"layer":[
 {"data":{"name":"b3"},"mark":{"type":"area"},"encoding":{"x":{"field":"x","type":"quantitative","scale":{"domain":[0,1],"nice":false},"axis":null},"y":{"field":"lo","type":"quantitative","scale":{"domain":[-0.53,0.56],"nice":false,"zero":false},"axis":null},"y2":{"field":"hi"}}},
 {"mark":{"type":"line"},"encoding":{"x":{"field":"x","type":"quantitative","title":null,"scale":{"domain":[0,1],"nice":false},"axis":{"values":[0,0.1,0.2,0.3,0.4,0.5,0.6,0.7,0.8,0.9]}},"y":{"field":"y","type":"quantitative","title":null,"scale":{"domain":[-0.53,0.56],"nice":false,"zero":false},"axis":{"values":[-0.5,0,0.5]}}}},
 {"mark":{"type":"line","opacity":0},"encoding":{"x":{"field":"x","type":"quantitative","title":null,"scale":{"domain":[0,1],"nice":false},"axis":{"orient":"top","labels":false,"minExtent":0,"maxExtent":0,"values":[0,0.1,0.2,0.3,0.4,0.5,0.6,0.7,0.8,0.9]}},"y":{"field":"y","type":"quantitative","title":null,"scale":{"domain":[-0.53,0.56],"nice":false,"zero":false},"axis":{"orient":"right","labels":false,"minExtent":0,"maxExtent":0,"values":[-0.5,0,0.5]}}}},
 {"mark":{"type":"line","opacity":0},"encoding":{"x":{"field":"x","type":"quantitative","title":null,"scale":{"domain":[0,1],"nice":false},"axis":{"orient":"top","labels":false,"tickSize":14,"tickOpacity":0,"minExtent":0,"maxExtent":0,"values":[0]}},"y":{"field":"y","type":"quantitative","scale":{"domain":[-0.53,0.56],"nice":false,"zero":false},"axis":null}}}
],"resolve":{"axis":{"x":"independent","y":"independent"}}},
{"title":"Intrinsic Mode Function 4","width":580,"height":70,"data":{"name":"d4"},"layer":[
 {"data":{"name":"b4"},"mark":{"type":"area"},"encoding":{"x":{"field":"x","type":"quantitative","scale":{"domain":[0,1],"nice":false},"axis":null},"y":{"field":"lo","type":"quantitative","scale":{"domain":[-0.44,0.45],"nice":false,"zero":false},"axis":null},"y2":{"field":"hi"}}},
 {"mark":{"type":"line"},"encoding":{"x":{"field":"x","type":"quantitative","title":null,"scale":{"domain":[0,1],"nice":false},"axis":{"values":[0,0.1,0.2,0.3,0.4,0.5,0.6,0.7,0.8,0.9]}},"y":{"field":"y","type":"quantitative","title":null,"scale":{"domain":[-0.44,0.45],"nice":false,"zero":false},"axis":{"values":[-0.4,-0.2,0,0.2,0.4]}}}},
 {"mark":{"type":"line","opacity":0},"encoding":{"x":{"field":"x","type":"quantitative","title":null,"scale":{"domain":[0,1],"nice":false},"axis":{"orient":"top","labels":false,"minExtent":0,"maxExtent":0,"values":[0,0.1,0.2,0.3,0.4,0.5,0.6,0.7,0.8,0.9]}},"y":{"field":"y","type":"quantitative","title":null,"scale":{"domain":[-0.44,0.45],"nice":false,"zero":false},"axis":{"orient":"right","labels":false,"minExtent":0,"maxExtent":0,"values":[-0.4,-0.2,0,0.2,0.4]}}}},
 {"mark":{"type":"line","opacity":0},"encoding":{"x":{"field":"x","type":"quantitative","title":null,"scale":{"domain":[0,1],"nice":false},"axis":{"orient":"top","labels":false,"tickSize":14,"tickOpacity":0,"minExtent":0,"maxExtent":0,"values":[0]}},"y":{"field":"y","type":"quantitative","scale":{"domain":[-0.44,0.45],"nice":false,"zero":false},"axis":null}}}
],"resolve":{"axis":{"x":"independent","y":"independent"}}},
{"title":"Intrinsic Mode Function 5","width":580,"height":70,"data":{"name":"d5"},"layer":[
 {"data":{"name":"b5"},"mark":{"type":"area"},"encoding":{"x":{"field":"x","type":"quantitative","scale":{"domain":[0,1],"nice":false},"axis":null},"y":{"field":"lo","type":"quantitative","scale":{"domain":[-1,1.18],"nice":false,"zero":false},"axis":null},"y2":{"field":"hi"}}},
 {"mark":{"type":"line"},"encoding":{"x":{"field":"x","type":"quantitative","title":null,"scale":{"domain":[0,1],"nice":false},"axis":{"values":[0,0.1,0.2,0.3,0.4,0.5,0.6,0.7,0.8,0.9]}},"y":{"field":"y","type":"quantitative","title":null,"scale":{"domain":[-1,1.18],"nice":false,"zero":false},"axis":{"values":[-1,0,1]}}}},
 {"mark":{"type":"line","opacity":0},"encoding":{"x":{"field":"x","type":"quantitative","title":null,"scale":{"domain":[0,1],"nice":false},"axis":{"orient":"top","labels":false,"minExtent":0,"maxExtent":0,"values":[0,0.1,0.2,0.3,0.4,0.5,0.6,0.7,0.8,0.9]}},"y":{"field":"y","type":"quantitative","title":null,"scale":{"domain":[-1,1.18],"nice":false,"zero":false},"axis":{"orient":"right","labels":false,"minExtent":0,"maxExtent":0,"values":[-1,0,1]}}}},
 {"mark":{"type":"line","opacity":0},"encoding":{"x":{"field":"x","type":"quantitative","title":null,"scale":{"domain":[0,1],"nice":false},"axis":{"orient":"top","labels":false,"tickSize":14,"tickOpacity":0,"minExtent":0,"maxExtent":0,"values":[0]}},"y":{"field":"y","type":"quantitative","scale":{"domain":[-1,1.18],"nice":false,"zero":false},"axis":null}}}
],"resolve":{"axis":{"x":"independent","y":"independent"}}},
{"title":"Intrinsic Mode Function 6","width":580,"height":70,"data":{"name":"d6"},"layer":[
 {"mark":{"type":"line","interpolate":"monotone"},"encoding":{"x":{"field":"x","type":"quantitative","title":null,"scale":{"domain":[0,1],"nice":false},"axis":{"values":[0,0.1,0.2,0.3,0.4,0.5,0.6,0.7,0.8,0.9]}},"y":{"field":"y","type":"quantitative","title":null,"scale":{"domain":[-3.6,3.6],"nice":false,"zero":false},"axis":{"values":[-2,0,2]}}}},
 {"mark":{"type":"line","opacity":0},"encoding":{"x":{"field":"x","type":"quantitative","title":null,"scale":{"domain":[0,1],"nice":false},"axis":{"orient":"top","labels":false,"minExtent":0,"maxExtent":0,"values":[0,0.1,0.2,0.3,0.4,0.5,0.6,0.7,0.8,0.9]}},"y":{"field":"y","type":"quantitative","title":null,"scale":{"domain":[-3.6,3.6],"nice":false,"zero":false},"axis":{"orient":"right","labels":false,"minExtent":0,"maxExtent":0,"values":[-2,0,2]}}}},
 {"mark":{"type":"line","opacity":0},"encoding":{"x":{"field":"x","type":"quantitative","title":null,"scale":{"domain":[0,1],"nice":false},"axis":{"orient":"top","labels":false,"tickSize":14,"tickOpacity":0,"minExtent":0,"maxExtent":0,"values":[0]}},"y":{"field":"y","type":"quantitative","scale":{"domain":[-3.6,3.6],"nice":false,"zero":false},"axis":null}}}
],"resolve":{"axis":{"x":"independent","y":"independent"}}},
{"title":"Intrinsic Mode Function 7","width":580,"height":70,"data":{"name":"d7"},"layer":[
 {"mark":{"type":"line","interpolate":"monotone"},"encoding":{"x":{"field":"x","type":"quantitative","title":null,"scale":{"domain":[0,1],"nice":false},"axis":{"values":[0,0.1,0.2,0.3,0.4,0.5,0.6,0.7,0.8,0.9]}},"y":{"field":"y","type":"quantitative","title":null,"scale":{"domain":[-1.32,1.48],"nice":false,"zero":false},"axis":{"values":[-1,0,1]}}}},
 {"mark":{"type":"line","opacity":0},"encoding":{"x":{"field":"x","type":"quantitative","title":null,"scale":{"domain":[0,1],"nice":false},"axis":{"orient":"top","labels":false,"minExtent":0,"maxExtent":0,"values":[0,0.1,0.2,0.3,0.4,0.5,0.6,0.7,0.8,0.9]}},"y":{"field":"y","type":"quantitative","title":null,"scale":{"domain":[-1.32,1.48],"nice":false,"zero":false},"axis":{"orient":"right","labels":false,"minExtent":0,"maxExtent":0,"values":[-1,0,1]}}}},
 {"mark":{"type":"line","opacity":0},"encoding":{"x":{"field":"x","type":"quantitative","title":null,"scale":{"domain":[0,1],"nice":false},"axis":{"orient":"top","labels":false,"tickSize":14,"tickOpacity":0,"minExtent":0,"maxExtent":0,"values":[0]}},"y":{"field":"y","type":"quantitative","scale":{"domain":[-1.32,1.48],"nice":false,"zero":false},"axis":null}}}
],"resolve":{"axis":{"x":"independent","y":"independent"}}},
{"title":"Intrinsic Mode Function 8","width":580,"height":70,"data":{"name":"d8"},"layer":[
 {"mark":{"type":"line","interpolate":"monotone"},"encoding":{"x":{"field":"x","type":"quantitative","title":null,"scale":{"domain":[0,1],"nice":false},"axis":{"values":[0,0.1,0.2,0.3,0.4,0.5,0.6,0.7,0.8,0.9]}},"y":{"field":"y","type":"quantitative","title":null,"scale":{"domain":[-0.3,0.5],"nice":false,"zero":false},"axis":{"values":[-0.2,0,0.2,0.4]}}}},
 {"mark":{"type":"line","opacity":0},"encoding":{"x":{"field":"x","type":"quantitative","title":null,"scale":{"domain":[0,1],"nice":false},"axis":{"orient":"top","labels":false,"minExtent":0,"maxExtent":0,"values":[0,0.1,0.2,0.3,0.4,0.5,0.6,0.7,0.8,0.9]}},"y":{"field":"y","type":"quantitative","title":null,"scale":{"domain":[-0.3,0.5],"nice":false,"zero":false},"axis":{"orient":"right","labels":false,"minExtent":0,"maxExtent":0,"values":[-0.2,0,0.2,0.4]}}}},
 {"mark":{"type":"line","opacity":0},"encoding":{"x":{"field":"x","type":"quantitative","title":null,"scale":{"domain":[0,1],"nice":false},"axis":{"orient":"top","labels":false,"tickSize":14,"tickOpacity":0,"minExtent":0,"maxExtent":0,"values":[0]}},"y":{"field":"y","type":"quantitative","scale":{"domain":[-0.3,0.5],"nice":false,"zero":false},"axis":null}}}
],"resolve":{"axis":{"x":"independent","y":"independent"}}},
{"title":"Intrinsic Mode Function 9","width":580,"height":70,"data":{"name":"d9"},"layer":[
 {"mark":{"type":"line","interpolate":"monotone"},"encoding":{"x":{"field":"x","type":"quantitative","title":null,"scale":{"domain":[0,1],"nice":false},"axis":{"values":[0,0.1,0.2,0.3,0.4,0.5,0.6,0.7,0.8,0.9]}},"y":{"field":"y","type":"quantitative","title":null,"scale":{"domain":[-0.33,1.42],"nice":false,"zero":false},"axis":{"values":[0,0.5,1]}}}},
 {"mark":{"type":"line","opacity":0},"encoding":{"x":{"field":"x","type":"quantitative","title":null,"scale":{"domain":[0,1],"nice":false},"axis":{"orient":"top","labels":false,"minExtent":0,"maxExtent":0,"values":[0,0.1,0.2,0.3,0.4,0.5,0.6,0.7,0.8,0.9]}},"y":{"field":"y","type":"quantitative","title":null,"scale":{"domain":[-0.33,1.42],"nice":false,"zero":false},"axis":{"orient":"right","labels":false,"minExtent":0,"maxExtent":0,"values":[0,0.5,1]}}}},
 {"mark":{"type":"line","opacity":0},"encoding":{"x":{"field":"x","type":"quantitative","title":null,"scale":{"domain":[0,1],"nice":false},"axis":{"orient":"top","labels":false,"tickSize":14,"tickOpacity":0,"minExtent":0,"maxExtent":0,"values":[0]}},"y":{"field":"y","type":"quantitative","scale":{"domain":[-0.33,1.42],"nice":false,"zero":false},"axis":null}}}
],"resolve":{"axis":{"x":"independent","y":"independent"}}},
{"title":"Intrinsic Mode Function 10","width":580,"height":70,"data":{"name":"d10"},"layer":[
 {"mark":{"type":"line","interpolate":"monotone"},"encoding":{"x":{"field":"x","type":"quantitative","title":null,"scale":{"domain":[0,1],"nice":false},"axis":{"values":[0,0.1,0.2,0.3,0.4,0.5,0.6,0.7,0.8,0.9]}},"y":{"field":"y","type":"quantitative","title":null,"scale":{"domain":[-3.1,5.9],"nice":false,"zero":false},"axis":{"values":[-2,0,2,4]}}}},
 {"mark":{"type":"line","opacity":0},"encoding":{"x":{"field":"x","type":"quantitative","title":null,"scale":{"domain":[0,1],"nice":false},"axis":{"orient":"top","labels":false,"minExtent":0,"maxExtent":0,"values":[0,0.1,0.2,0.3,0.4,0.5,0.6,0.7,0.8,0.9]}},"y":{"field":"y","type":"quantitative","title":null,"scale":{"domain":[-3.1,5.9],"nice":false,"zero":false},"axis":{"orient":"right","labels":false,"minExtent":0,"maxExtent":0,"values":[-2,0,2,4]}}}},
 {"mark":{"type":"line","opacity":0},"encoding":{"x":{"field":"x","type":"quantitative","title":null,"scale":{"domain":[0,1],"nice":false},"axis":{"orient":"top","labels":false,"tickSize":14,"tickOpacity":0,"minExtent":0,"maxExtent":0,"values":[0]}},"y":{"field":"y","type":"quantitative","scale":{"domain":[-3.1,5.9],"nice":false,"zero":false},"axis":null}}}
],"resolve":{"axis":{"x":"independent","y":"independent"}}},
{"title":"Intrinsic Mode Function 11","width":580,"height":70,"data":{"name":"d11"},"layer":[
 {"mark":{"type":"line","interpolate":"monotone"},"encoding":{"x":{"field":"x","type":"quantitative","title":null,"scale":{"domain":[0,1],"nice":false},"axis":{"values":[0,0.1,0.2,0.3,0.4,0.5,0.6,0.7,0.8,0.9]}},"y":{"field":"y","type":"quantitative","scale":{"domain":[-0.0041,0],"nice":false,"zero":false},"axis":{"values":[-0.004,-0.002,0],"labelExpr":"replace(format(datum.value*1000,'.0f'),'\u2212','-')","title":"\u00d710\u207b\u00b3","titleAngle":0,"titleAlign":"left","titleBaseline":"bottom","titleX":0,"titleY":-1,"titleFontSize":11,"titleFontWeight":"normal","titleColor":"#333333","titleFont":"Liberation Sans"}}}},
 {"mark":{"type":"line","opacity":0},"encoding":{"x":{"field":"x","type":"quantitative","title":null,"scale":{"domain":[0,1],"nice":false},"axis":{"orient":"top","labels":false,"minExtent":0,"maxExtent":0,"values":[0,0.1,0.2,0.3,0.4,0.5,0.6,0.7,0.8,0.9]}},"y":{"field":"y","type":"quantitative","title":null,"scale":{"domain":[-0.0041,0],"nice":false,"zero":false},"axis":{"orient":"right","labels":false,"minExtent":0,"maxExtent":0,"values":[-0.004,-0.002,0]}}}},
 {"mark":{"type":"line","opacity":0},"encoding":{"x":{"field":"x","type":"quantitative","title":null,"scale":{"domain":[0,1],"nice":false},"axis":{"orient":"top","labels":false,"tickSize":14,"tickOpacity":0,"minExtent":0,"maxExtent":0,"values":[0]}},"y":{"field":"y","type":"quantitative","scale":{"domain":[-0.0041,0],"nice":false,"zero":false},"axis":null}}}
],"resolve":{"axis":{"x":"independent","y":"independent"}}},
{"title":"Intrinsic Mode Function 12","width":580,"height":70,"data":{"name":"d12"},"layer":[
 {"mark":{"type":"line","interpolate":"monotone"},"encoding":{"x":{"field":"x","type":"quantitative","title":null,"scale":{"domain":[0,1],"nice":false},"axis":{"values":[0,0.1,0.2,0.3,0.4,0.5,0.6,0.7,0.8,0.9]}},"y":{"field":"y","type":"quantitative","title":null,"scale":{"domain":[-1.01,1.01],"nice":false,"zero":false},"axis":{"values":[-1,0,1]}}}},
 {"mark":{"type":"line","opacity":0},"encoding":{"x":{"field":"x","type":"quantitative","title":null,"scale":{"domain":[0,1],"nice":false},"axis":{"orient":"top","labels":false,"minExtent":0,"maxExtent":0,"values":[0,0.1,0.2,0.3,0.4,0.5,0.6,0.7,0.8,0.9]}},"y":{"field":"y","type":"quantitative","title":null,"scale":{"domain":[-1.01,1.01],"nice":false,"zero":false},"axis":{"orient":"right","labels":false,"minExtent":0,"maxExtent":0,"values":[-1,0,1]}}}},
 {"mark":{"type":"line","opacity":0},"encoding":{"x":{"field":"x","type":"quantitative","title":null,"scale":{"domain":[0,1],"nice":false},"axis":{"orient":"top","labels":false,"tickSize":14,"tickOpacity":0,"minExtent":0,"maxExtent":0,"values":[0]}},"y":{"field":"y","type":"quantitative","scale":{"domain":[-1.01,1.01],"nice":false,"zero":false},"axis":null}}}
],"resolve":{"axis":{"x":"independent","y":"independent"}}}
]
}
